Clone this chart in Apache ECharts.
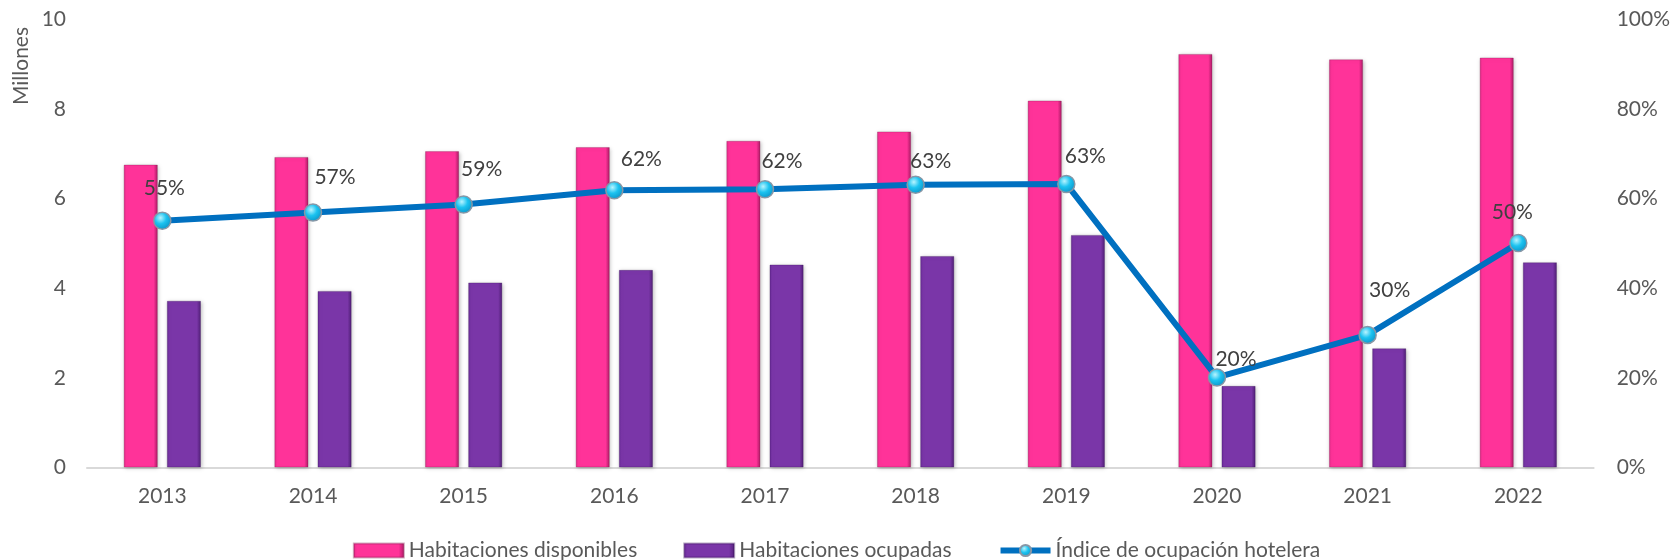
<!DOCTYPE html>
<html>
<head>
<meta charset="utf-8">
<script src="https://cdn.jsdelivr.net/npm/echarts@6/dist/echarts.min.js"></script>
<style>
html,body{margin:0;padding:0;background:#fff;}
#chart{width:1673px;height:560px;}
</style>
</head>
<body>
<div id="chart"></div>
<script>
const years = ['2013','2014','2015','2016','2017','2018','2019','2020','2021','2022'];
const disponibles = [6.76, 6.93, 7.06, 7.15, 7.29, 7.50, 8.19, 9.23, 9.11, 9.15];
const ocupadas = [3.72, 3.94, 4.13, 4.41, 4.53, 4.72, 5.19, 1.82, 2.66, 4.58];
const indice = [0.551, 0.569, 0.587, 0.619, 0.621, 0.631, 0.633, 0.201, 0.296, 0.501];
const leftTicks = {min: 0, max: 10, interval: 2};
const rightTicks = {min: 0, max: 1, interval: 0.2};

// label placement offsets (style only)
const labelOffsets = [[2,-32],[22,-35],[18,-35],[27,-31],[17,-28],[15,-24],[19,-28],[19,-18],[22,-45],[-6,-31]];

const FONT = 'Lato, "Open Sans", sans-serif';
const TXT = '#595959';
const FS = 21;

const pinkGrad = new echarts.graphic.LinearGradient(0,0,1,0,[
  {offset:0, color:'#e02c88'},
  {offset:0.08, color:'#ff3399'},
  {offset:0.88, color:'#ff3399'},
  {offset:1, color:'#a81a63'}
]);
const purpleGrad = new echarts.graphic.LinearGradient(0,0,1,0,[
  {offset:0, color:'#6a2c98'},
  {offset:0.08, color:'#7a36a8'},
  {offset:0.88, color:'#7a36a8'},
  {offset:1, color:'#4f1f75'}
]);
const markerGrad = new echarts.graphic.RadialGradient(0.4,0.35,0.7,[
  {offset:0, color:'#b8f4ff'},
  {offset:0.45, color:'#1cc3f0'},
  {offset:1, color:'#0a8fc4'}
]);

const chart = echarts.init(document.getElementById('chart'));
chart.setOption({
  animation: false,
  textStyle: {fontFamily: FONT},
  grid: {left: 87, right: 74, top: 19.5, bottom: 92.5, containLabel: false},
  legend: {
    left: 'center',
    top: 535,
    itemWidth: 50,
    itemHeight: 14,
    itemGap: 46,
    textStyle: {fontFamily: FONT, fontSize: FS, color: TXT},
    data: [
      {name: 'Habitaciones disponibles', icon: 'rect'},
      {name: 'Habitaciones ocupadas', icon: 'rect'},
      {name: 'Índice de ocupación hotelera', lineStyle: {width: 6, color: '#0070c0'}}
    ]
  },
  xAxis: {
    type: 'category',
    data: years,
    axisLine: {show: true, lineStyle: {color: '#d9d9d9', width: 2}},
    axisTick: {show: false},
    axisLabel: {fontSize: FS, color: TXT, margin: 18, fontFamily: FONT}
  },
  yAxis: [
    {
      type: 'value',
      min: leftTicks.min, max: leftTicks.max, interval: leftTicks.interval,
      axisLine: {show: false}, axisTick: {show: false},
      splitLine: {show: false},
      axisLabel: {fontSize: FS, color: TXT, margin: 21, fontFamily: FONT}
    },
    {
      type: 'value',
      min: rightTicks.min, max: rightTicks.max, interval: rightTicks.interval,
      axisLine: {show: false}, axisTick: {show: false},
      splitLine: {show: false},
      axisLabel: {fontSize: FS, color: TXT, margin: 23, fontFamily: FONT,
        formatter: v => Math.round(v*100) + '%'}
    }
  ],
  graphic: [{
    type: 'text',
    x: 21, y: 66,
    rotation: Math.PI/2,
    style: {text: 'Millones', fontSize: FS, fontFamily: FONT, fill: TXT, align: 'center', verticalAlign: 'middle'}
  }],
  series: [
    {
      name: 'Habitaciones disponibles',
      type: 'bar',
      yAxisIndex: 0,
      barWidth: 34,
      barGap: '27%',
      data: disponibles,
      itemStyle: {color: pinkGrad, borderColor: 'rgba(120,20,70,0.35)', borderWidth: 0.8,
        shadowBlur: 4, shadowColor: 'rgba(0,0,0,0.25)', shadowOffsetX: 1, shadowOffsetY: 1}
    },
    {
      name: 'Habitaciones ocupadas',
      type: 'bar',
      yAxisIndex: 0,
      barWidth: 34,
      data: ocupadas,
      itemStyle: {color: purpleGrad, borderColor: 'rgba(50,10,80,0.35)', borderWidth: 0.8,
        shadowBlur: 4, shadowColor: 'rgba(0,0,0,0.25)', shadowOffsetX: 1, shadowOffsetY: 1}
    },
    {
      name: 'Índice de ocupación hotelera',
      type: 'line',
      yAxisIndex: 1,
      z: 5,
      symbol: 'circle',
      symbolSize: 17,
      lineStyle: {color: '#0070c0', width: 6},
      itemStyle: {color: markerGrad, borderColor: '#8797a6', borderWidth: 1.5},
      label: {
        show: true,
        position: 'inside',
        fontSize: FS,
        fontFamily: FONT,
        color: '#404040',
        formatter: p => Math.round(p.value*100) + '%'
      },
      data: indice.map((v, i) => ({value: v, label: {offset: labelOffsets[i]}}))
    }
  ]
});
</script>
</body>
</html>
